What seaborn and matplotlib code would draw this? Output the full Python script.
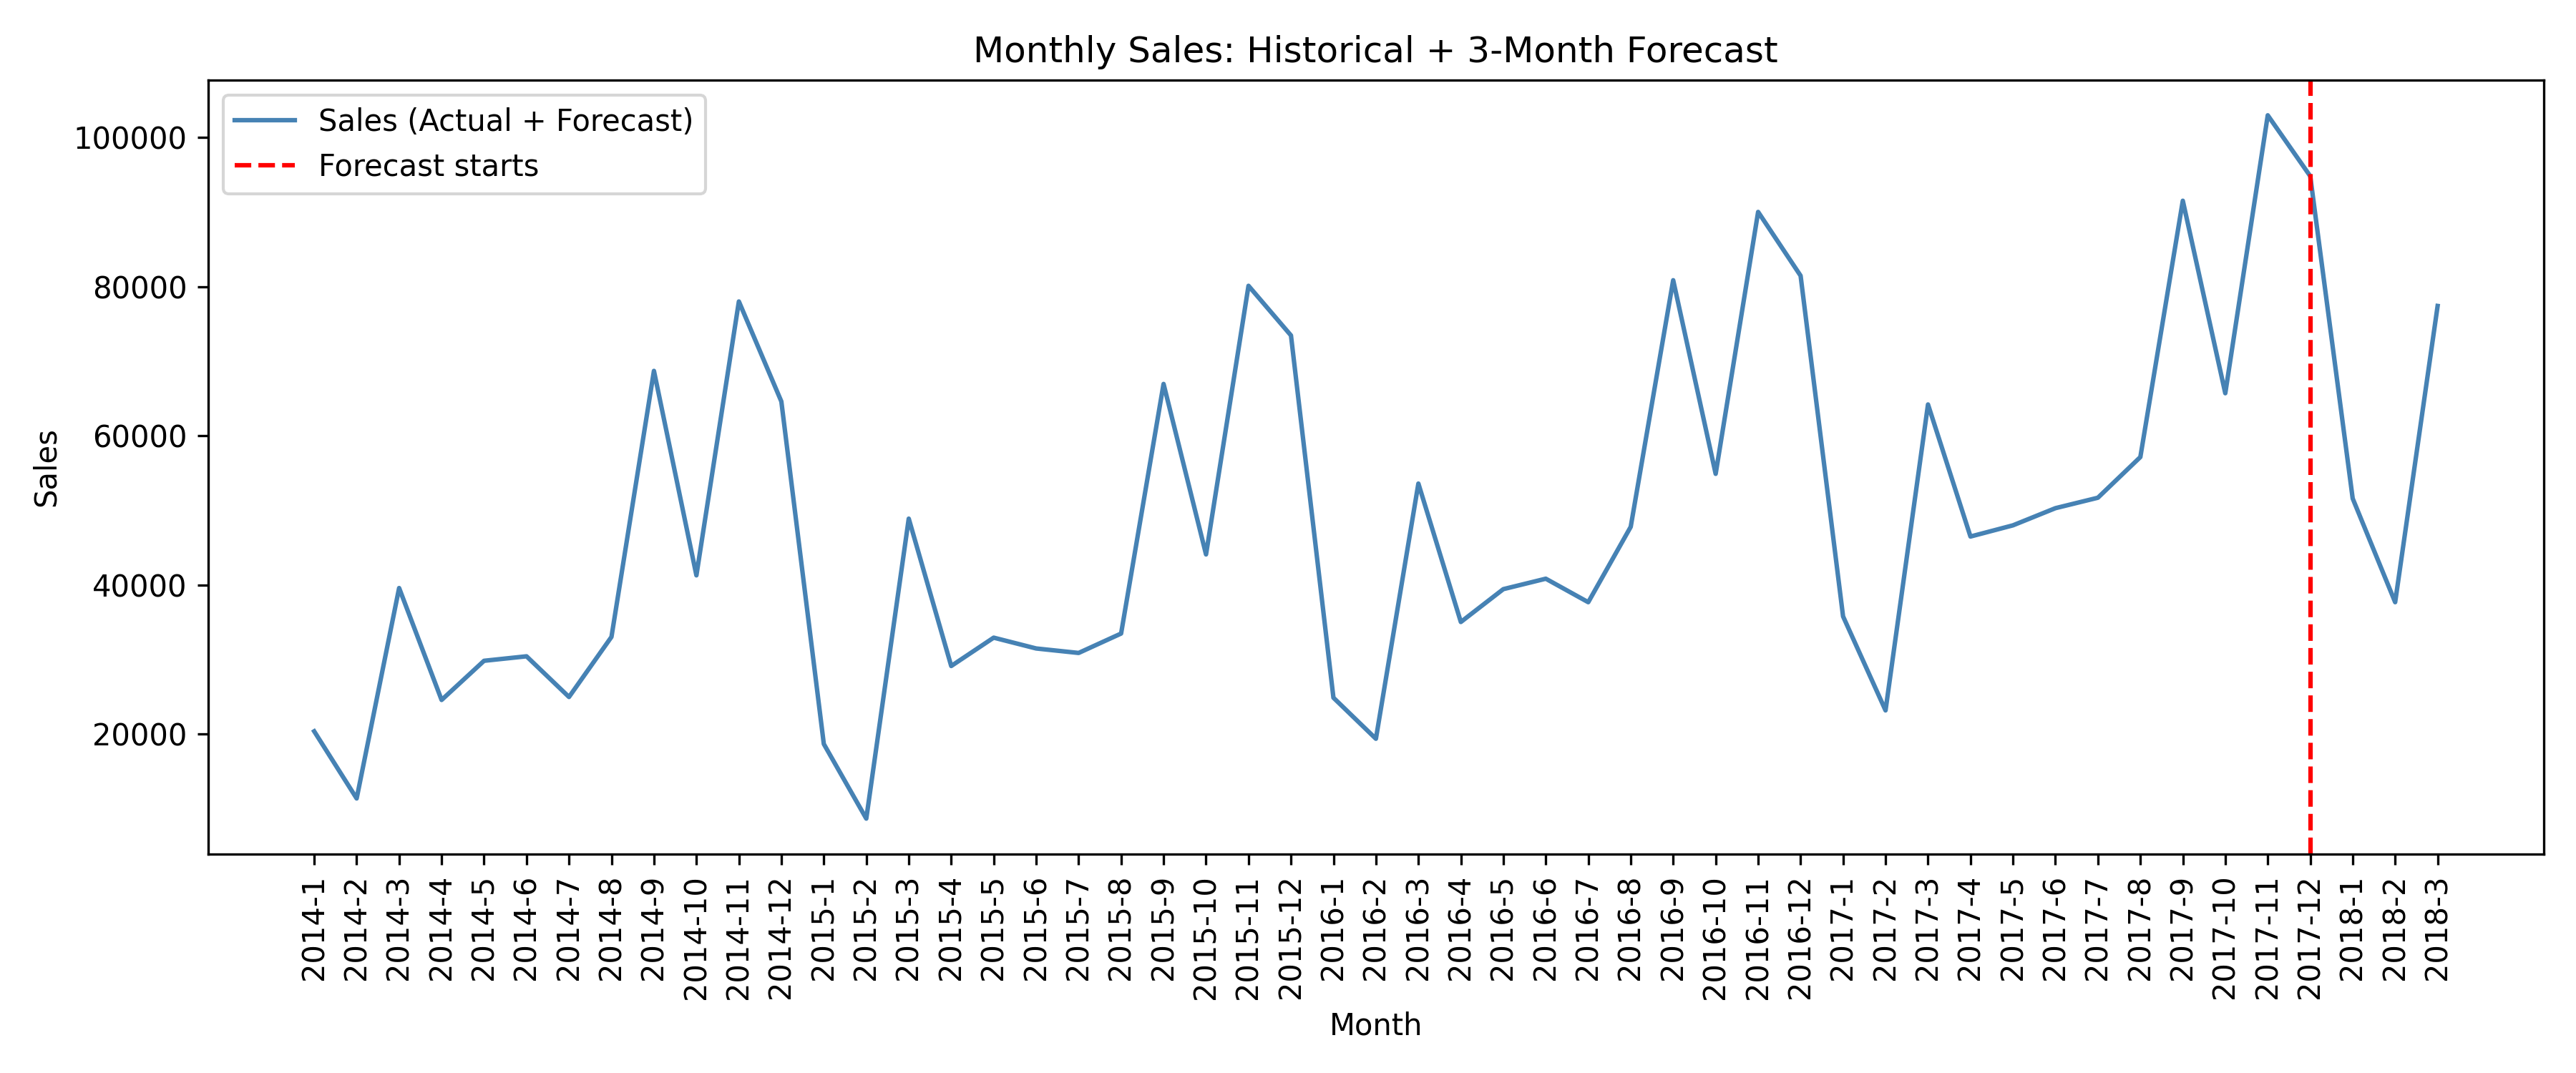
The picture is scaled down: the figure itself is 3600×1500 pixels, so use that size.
import numpy as np
import pandas as pd
import matplotlib
matplotlib.use("Agg")
import matplotlib.pyplot as plt
import seaborn as sns

# months on the x axis (actual history + 3 forecast months)
months = [
    "2014-1", "2014-2", "2014-3", "2014-4", "2014-5", "2014-6",
    "2014-7", "2014-8", "2014-9", "2014-10", "2014-11", "2014-12",
    "2015-1", "2015-2", "2015-3", "2015-4", "2015-5", "2015-6",
    "2015-7", "2015-8", "2015-9", "2015-10", "2015-11", "2015-12",
    "2016-1", "2016-2", "2016-3", "2016-4", "2016-5", "2016-6",
    "2016-7", "2016-8", "2016-9", "2016-10", "2016-11", "2016-12",
    "2017-1", "2017-2", "2017-3", "2017-4", "2017-5", "2017-6",
    "2017-7", "2017-8", "2017-9", "2017-10", "2017-11", "2017-12",
    "2018-1", "2018-2", "2018-3",
]

sales = [
    20400, 11400, 39600, 24600, 29850, 30450,
    25000, 33050, 68700, 41300, 78000, 64600,
    18700, 8700, 48900, 29150, 32950, 31500,
    30900, 33500, 66950, 44100, 80100, 73450,
    24900, 19400, 53600, 35050, 39450, 40850,
    37700, 47800, 80850, 54900, 90000, 81450,
    35800, 23200, 64200, 46500, 48000, 50300,
    51700, 57150, 91500, 65700, 102950, 94800,
    51600, 37700, 77400,
]

forecast_start = "2017-12"

df = pd.DataFrame({"pos": np.arange(len(months)), "month": months, "sales": sales})

fig, ax = plt.subplots(figsize=(12, 5))

sns.lineplot(data=df, x="pos", y="sales", ax=ax, color="steelblue",
             linewidth=1.5, label="Sales (Actual + Forecast)")
ax.axvline(months.index(forecast_start), color="red", linestyle="--",
           linewidth=1.5, label="Forecast starts")

ax.set_xticks(df["pos"])
ax.set_xticklabels(months, rotation=90)
ax.set_title("Monthly Sales: Historical + 3-Month Forecast")
ax.set_xlabel("Month")
ax.set_ylabel("Sales")
ax.legend(loc="upper left")

plt.tight_layout()
plt.savefig("out.png", dpi=300)
plt.close()
